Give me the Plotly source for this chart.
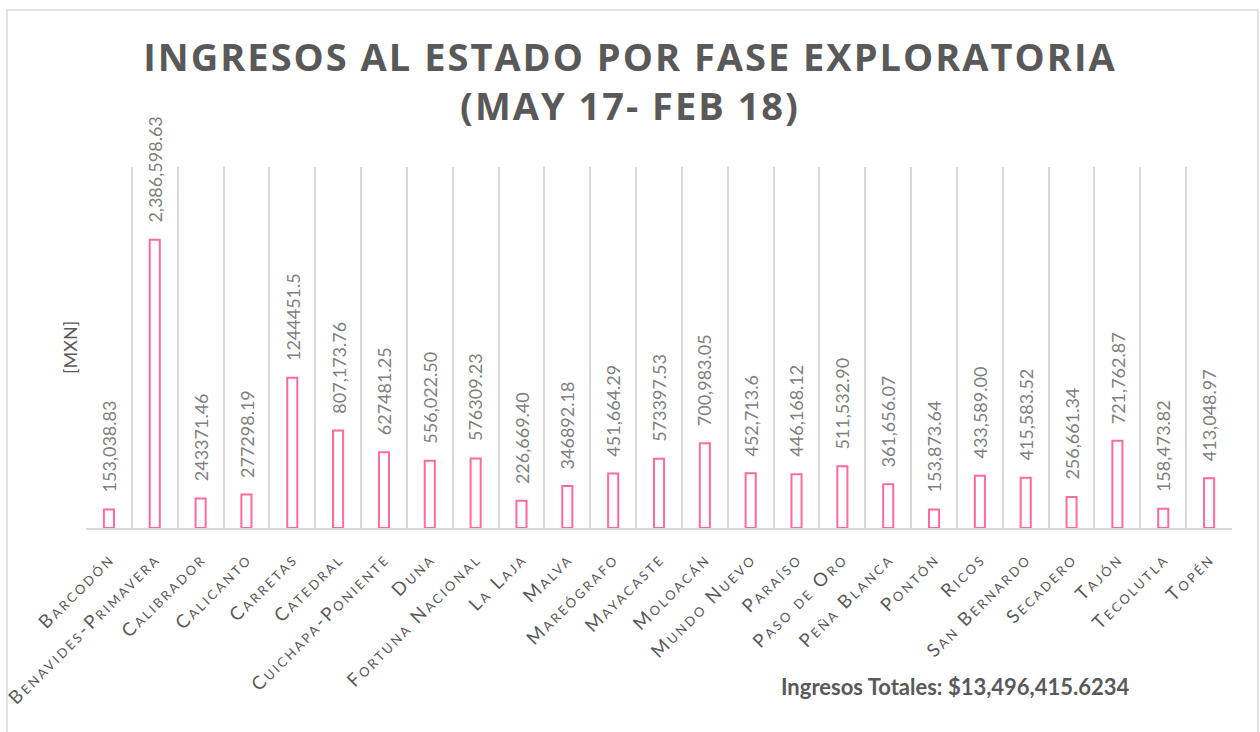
import plotly.graph_objects as go

categories = ["Barcodón", "Benavides-Primavera", "Calibrador", "Calicanto", "Carretas",
              "Catedral", "Cuichapa-Poniente", "Duna", "Fortuna Nacional", "La Laja",
              "Malva", "Mareógrafo", "Mayacaste", "Moloacán", "Mundo Nuevo", "Paraíso",
              "Paso de Oro", "Peña Blanca", "Pontón", "Ricos", "San Bernardo", "Secadero",
              "Tajón", "Tecolutla", "Topén"]
values = [153038.83, 2386598.63, 243371.46, 277298.19, 1244451.5,
          807173.76, 627481.25, 556022.50, 576309.23, 226669.40,
          346892.18, 451664.29, 573397.53, 700983.05, 452713.6, 446168.12,
          511532.90, 361656.07, 153873.64, 433589.00, 415583.52, 256661.34,
          721762.87, 158473.82, 413048.97]
value_labels = ["153,038.83", "2,386,598.63", "243371.46", "277298.19", "1244451.5",
                "807,173.76", "627481.25", "556,022.50", "576309.23", "226,669.40",
                "346892.18", "451,664.29", "573397.53", "700,983.05", "452,713.6", "446,168.12",
                "511,532.90", "361,656.07", "153,873.64", "433,589.00", "415,583.52", "256,661.34",
                "721,762.87", "158,473.82", "413,048.97"]
title_line1 = "INGRESOS AL ESTADO POR FASE EXPLORATORIA"
title_line2 = "(MAY 17- FEB 18)"
total_text = "Ingresos Totales: $13,496,415.6234"
y_title = "[MXN]"

W, H = 1260, 732
L, R, T, B = 86, 28, 167, 204
pw, ph = W - L - R, H - T - B

def px_x(p):
    return (p - L) / pw

def px_y(p):
    return (H - B - p) / ph

def spaced(s, px):
    return "<span style='letter-spacing:%spx'>%s</span>" % (px, s)

fig = go.Figure()
fig.add_trace(go.Bar(
    x=categories, y=values, width=0.22,
    marker=dict(color="white", line=dict(color="#FF6B9E", width=2)),
    hoverinfo="x+y",
))

for c, v, t in zip(categories, values, value_labels):
    fig.add_annotation(x=c, y=v, text=t, showarrow=False, textangle=-90,
                       yanchor="bottom", xanchor="center", yshift=15,
                       font=dict(family="Lato", size=18, color="#7F7F7F"))

fig.add_annotation(xref="paper", yref="paper", x=px_x(57), y=px_y(348), text=y_title,
                   showarrow=False, textangle=-90,
                   font=dict(family="Lato", size=18, color="#595959"))
fig.add_annotation(xref="paper", yref="paper", x=px_x(955), y=px_y(686), text="<b>" + total_text + "</b>",
                   showarrow=False, xanchor="center", yanchor="middle",
                   font=dict(family="Lato", size=22, color="#595959"))

# cover outside frame on left and draw frame
fig.add_shape(type="rect", xref="paper", yref="paper", x0=px_x(-50), x1=px_x(7),
              y0=px_y(800), y1=px_y(-50), fillcolor="white", line=dict(width=0), layer="above")
fig.add_shape(type="rect", xref="paper", yref="paper", x0=px_x(7), x1=px_x(1258),
              y0=px_y(745), y1=px_y(10), fillcolor="rgba(0,0,0,0)",
              line=dict(color="#D9D9D9", width=1.5), layer="above")

fig.update_layout(
    width=W, height=H,
    margin=dict(l=L, r=R, t=T, b=B, pad=0, autoexpand=False),
    paper_bgcolor="white", plot_bgcolor="white",
    showlegend=False,
    title=dict(text="<b>" + spaced(title_line1, 2) + "<br>" + spaced(title_line2, 2) + "</b>",
               x=0.5, xanchor="center",
               y=1 - 71 / H, yanchor="middle", yref="container",
               font=dict(family="Open Sans", size=38, color="#595959")),
    xaxis=dict(type="category", range=[-0.5, len(categories) - 0.5],
               tickmode="array", tickvals=categories,
               ticktext=[spaced(c, 2.5) for c in categories],
               tickson="boundaries", showgrid=True, gridcolor="#D9D9D9", gridwidth=1.5,
               showline=True, linecolor="#D9D9D9", linewidth=2, ticks="",
               tickangle=-45, ticklabelstandoff=11, automargin=False,
               tickfont=dict(family="Lato", size=18.5, color="#595959", variant="small-caps"),
               fixedrange=True),
    yaxis=dict(range=[0, 2990000], showgrid=False, showticklabels=False, automargin=False,
               zeroline=False, showline=False, fixedrange=True),
)

fig.write_html("out.html", config={"displayModeBar": False},
               post_script="document.body.style.margin='0';")
